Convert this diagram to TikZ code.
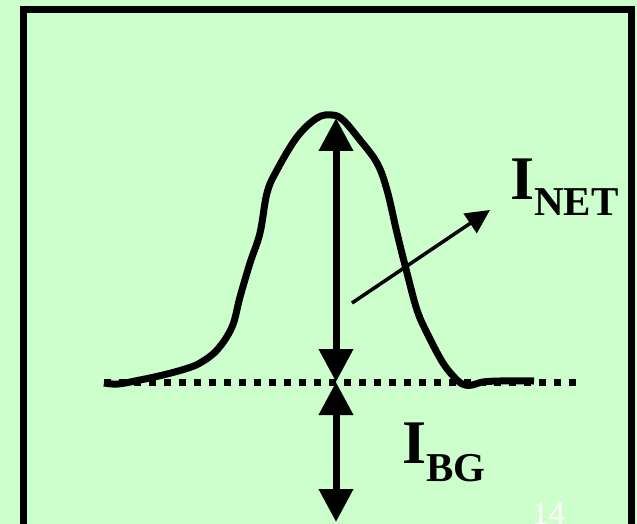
\documentclass[tikz,border=0pt]{standalone}
\usepackage{fontspec}
\setmainfont{Liberation Serif}
\usetikzlibrary{arrows.meta}
\definecolor{slidebg}{HTML}{CCFFCC}
\begin{document}
\begin{tikzpicture}[x=1pt,y=-1pt,
  bigarrow/.style={line width=7pt,{Triangle[length=33pt,width=33pt]}-{Triangle[length=33pt,width=33pt]}},
  thinarrow/.style={line width=3.5pt,-{Triangle[length=24pt,width=23pt]}},
  lbl/.style={inner sep=0pt,anchor=base west,font=\bfseries\fontsize{62}{62}\selectfont}]
\useasboundingbox (0,0) rectangle (637,524);
\fill[slidebg] (0,0) rectangle (637,524);
\draw[line width=7pt] (23,9.7) rectangle (631,527.5);
% baseline and peak
\draw[line width=7pt,dash pattern=on 7pt off 8pt] (104,382)--(580,382);
\draw[line width=7pt,line join=round] plot[smooth,tension=0.6] coordinates {(104,383) (118,384) (140,380) (163,375) (185,369) (200,363) (217,350) (232,327) (240,297) (250,263) (260,233) (267,193) (277,170) (297,137) (317,118) (332,115) (343,120) (360,140) (377,163) (387,190) (397,233) (407,273) (417,310) (427,333) (443,363) (457,380) (465,385) (472,385) (483,382) (500,381) (534,381)};
\coordinate (peak) at (336,118);
\coordinate (base) at (336,382);
\coordinate (floor) at (336,522);
\draw[bigarrow] (peak)--(base);
\draw[bigarrow] (base)--(floor);
\node[lbl] (inet) at (510,199) {I\raisebox{-16pt}{\fontsize{41}{41}\selectfont NET}};
\node[lbl] (ibg) at (402,463) {I\raisebox{-18pt}{\fontsize{41}{41}\selectfont BG}};
\coordinate (netfoot) at (352,303);
\coordinate (nettip) at (490,210);
\draw[thinarrow] (netfoot)--(nettip);
\node[inner sep=0pt,anchor=base west,white,font=\fontsize{33}{33}\selectfont] (pg) at (532,524) {14};
\end{tikzpicture}
\end{document}
